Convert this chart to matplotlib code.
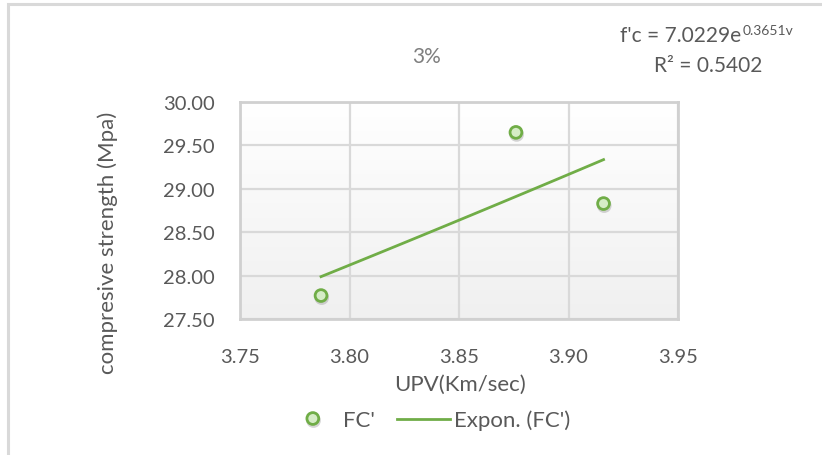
import numpy as np
import matplotlib
matplotlib.use("Agg")
import matplotlib.pyplot as plt
from matplotlib.patches import Rectangle
from matplotlib.colors import LinearSegmentedColormap
import matplotlib.patheffects as pe

upv = [3.787, 3.876, 3.916]
fc = [27.77, 29.65, 28.83]
xticks = [3.75, 3.80, 3.85, 3.90, 3.95]
yticks = [27.50, 28.00, 28.50, 29.00, 29.50, 30.00]
title = "3%"
eq_main = "f'c = 7.0229e"
eq_sup = "0.3651v"
r2_text = "R² = 0.5402"

plt.rcParams['font.family'] = ['Lato', 'DejaVu Sans']

W, H = 822, 456
fig = plt.figure(figsize=(W/100, H/100), dpi=100)
fig.patch.set_facecolor('white')

# outer chart frame
fig.patches.append(Rectangle((8/W, -0.1), 1.2, 1 - 5/H + 0.1, transform=fig.transFigure,
                             fill=False, edgecolor='#d9d9d9', linewidth=2.2))

ax = fig.add_axes([240/W, 1 - 320/H, 438/W, 217/H])

# gradient background (white top -> light gray bottom)
grad = np.linspace(0, 1, 256).reshape(-1, 1)
cmap = LinearSegmentedColormap.from_list('g', ['#ffffff', '#f0f0f0'])
ax.imshow(grad, extent=[0, 1, 0, 1], origin='upper', transform=ax.transAxes, cmap=cmap,
          aspect='auto', zorder=0)
ax.set_xlim(xticks[0], xticks[-1])
ax.set_ylim(yticks[0], yticks[-1])

ax.set_xticks(xticks)
ax.set_yticks(yticks)
ax.set_xticklabels([f"{v:.2f}" for v in xticks])
ax.set_yticklabels([f"{v:.2f}" for v in yticks])
ax.grid(True, color='#d9d9d9', linewidth=1.6, zorder=1)
ax.set_axisbelow(True)
for s in ax.spines.values():
    s.set_color('#d0d0d0')
    s.set_linewidth(2)
ax.tick_params(length=0, labelsize=14.5, labelcolor='#595959')
ax.tick_params(axis='x', pad=21)
ax.tick_params(axis='y', pad=18)

# exponential trendline fitted from data
b, lna = np.polyfit(upv, np.log(fc), 1)
xs = np.linspace(min(upv), max(upv), 50)
ys = np.exp(lna) * np.exp(b * xs)
line, = ax.plot(xs, ys, color='#70ad47', linewidth=2, zorder=3, label="Expon. (FC')")

pts, = ax.plot(upv, fc, 'o', markersize=8.5, markerfacecolor='#d5ecc6',
               markeredgecolor='#70ad47', markeredgewidth=2, zorder=4, label="FC'",
               path_effects=[pe.SimpleLineShadow(offset=(0.5, -1.5), shadow_color='#888888', alpha=0.35),
                             pe.Normal()])

fig.text(427/W, 1 - 57/H, title, ha='center', va='center', fontsize=15, color='#7f7f7f')

t1 = fig.text(620/W, 1 - 36/H, eq_main, ha='left', va='center', fontsize=15, color='#595959')
ax.annotate(eq_sup, xy=(1, 0.75), xycoords=t1, xytext=(1, 0), textcoords='offset points',
            ha='left', va='center', fontsize=10, color='#595959')
fig.text(708/W, 1 - 66/H, r2_text, ha='center', va='center', fontsize=15, color='#595959')

fig.text(108/W, 1 - 243/H, "compresive strength (Mpa)", rotation=90, ha='center', va='center',
         fontsize=16, color='#595959')
fig.text(460/W, 1 - 385/H, "UPV(Km/sec)", ha='center', va='center', fontsize=16, color='#595959')

leg = fig.legend(handles=[pts, line], loc='center', bbox_to_anchor=(428/W, 1 - 421/H), ncol=2,
                 frameon=False, fontsize=16, labelcolor='#595959', handlelength=2.4,
                 columnspacing=1.0, handletextpad=0.15)

fig.savefig('out.png', dpi=100)
